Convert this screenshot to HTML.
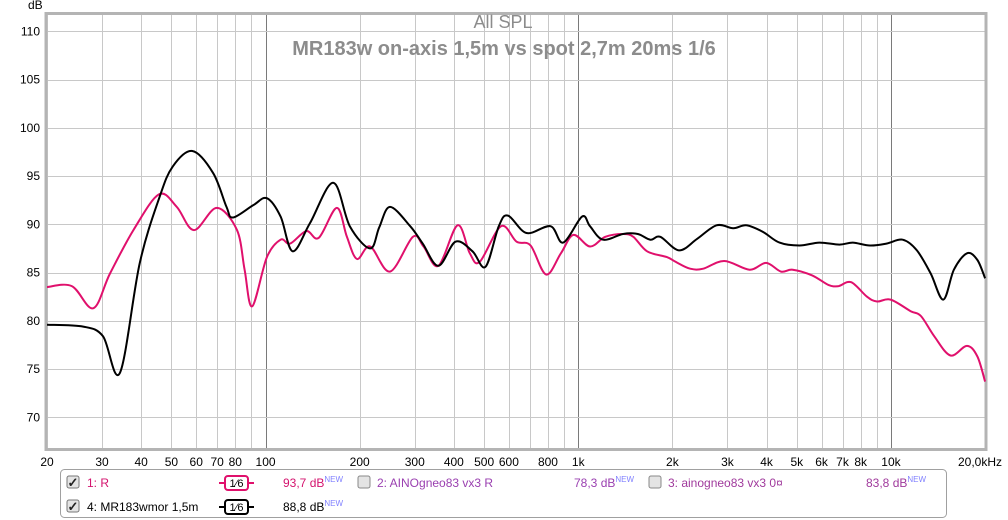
<!DOCTYPE html>
<html><head><meta charset="utf-8"><style>
html,body{margin:0;padding:0;background:#fff;}
svg{display:block;font-family:"Liberation Sans",sans-serif;}
</style></head><body>
<svg id="chart" width="1008" height="520" viewBox="0 0 1008 520" xmlns="http://www.w3.org/2000/svg">
<rect x="0" y="0" width="1008" height="520" fill="#fff"/>
<g id="grid"></g>
<rect x="46" y="13.5" width="940" height="436" fill="none" stroke="#b4b4b4" stroke-width="3"/>
<g id="xlabels" font-size="12" fill="#000"></g>
<g id="ylabels" font-size="12" fill="#000"></g>
<text x="28" y="9" font-size="12" fill="#000">dB</text>
<text x="503" y="28" font-size="18" fill="#8c8c8c" text-anchor="middle">All SPL</text>
<text x="504" y="55" font-size="20" font-weight="bold" fill="#8c8c8c" text-anchor="middle">MR183w on-axis 1,5m vs spot 2,7m  20ms 1/6</text>
<g id="series"></g>

<g font-size="12">
<rect x="60.5" y="469.5" width="886" height="48" rx="4" fill="#fff" stroke="#a0a0a0"/>
<g>
<rect x="67" y="476" width="12" height="12" rx="2" fill="#e4e4e4" stroke="#777"/>
<text x="67.5" y="487" font-size="13" font-weight="bold" fill="#222">✓</text>
<text x="87" y="487" fill="#d4136e">1: R</text>
<line x1="219" y1="483" x2="254" y2="483" stroke="#e0106c" stroke-width="2"/>
<rect x="225" y="476" width="23" height="14" rx="3" fill="#fff" stroke="#e0106c" stroke-width="2"/>
<text x="236.5" y="487" text-anchor="middle" font-size="11" fill="#000">1⁄6</text>
<text x="283" y="487" fill="#d4136e">93,7 dB<tspan dy="-5" font-size="8" fill="#8080ff">NEW</tspan></text>
</g>
<g>
<rect x="358" y="476" width="12" height="12" rx="2" fill="#e4e4e4" stroke="#888"/>
<text x="377" y="487" fill="#9a3fb0">2: AINOgneo83 vx3 R</text>
<text x="574" y="487" fill="#9a3fb0">78,3 dB<tspan dy="-5" font-size="8" fill="#8080ff">NEW</tspan></text>
</g>
<g>
<rect x="649" y="476" width="12" height="12" rx="2" fill="#e4e4e4" stroke="#888"/>
<text x="668" y="487" fill="#a03a9c">3: ainogneo83 vx3 0¤</text>
<text x="866" y="487" fill="#a03a9c">83,8 dB<tspan dy="-5" font-size="8" fill="#8080ff">NEW</tspan></text>
</g>
<g>
<rect x="67" y="500" width="12" height="12" rx="2" fill="#e4e4e4" stroke="#777"/>
<text x="67.5" y="511" font-size="13" font-weight="bold" fill="#222">✓</text>
<text x="87" y="511" fill="#000">4: MR183wmor 1,5m</text>
<line x1="219" y1="507" x2="254" y2="507" stroke="#000" stroke-width="2"/>
<rect x="225" y="500" width="23" height="14" rx="3" fill="#fff" stroke="#000" stroke-width="2"/>
<text x="236.5" y="511" text-anchor="middle" font-size="11" fill="#000">1⁄6</text>
<text x="283" y="511" fill="#000">88,8 dB<tspan dy="-5" font-size="8" fill="#8080ff">NEW</tspan></text>
</g>
</g>
</svg>
<script>
const pinkFreq=[20,24,28.1,31.8,37.8,45.6,52,59,69.8,81,85.7,90.6,101,111.7,119.8,135,148,169,182,196,216,250,296,320,357,411,450,484,566,635,704,789,880,965,1090,1220,1390,1500,1660,1920,2050,2280,2510,2930,3530,3990,4450,4850,5600,6320,6800,7460,8380,9020,9970,11560,12470,13750,15500,17500,18900,20000];
const pinkDb=[83.5,83.6,81.3,84.9,89.4,93.1,91.8,89.4,91.7,89.4,85.3,81.5,86.6,88.4,88.0,89.3,88.6,91.7,88.7,86.4,87.7,85.1,88.7,87.7,85.7,89.9,87.0,86.1,89.8,88.2,87.8,84.8,87.0,88.9,87.7,88.7,89.0,88.7,87.2,86.6,86.1,85.4,85.4,86.2,85.3,86.0,85.1,85.3,84.7,83.7,83.6,84.0,82.5,82.0,82.2,81.0,80.5,78.4,76.4,77.4,76.3,73.7];
const blackFreq=[20,26.1,30.2,34.2,39.6,45.9,50.5,58.3,68,75,78.6,91.5,101,111.7,122,138.6,164.6,186,216,231,250,290,318,357,405,459,505,557,596,683,815,895,1028,1090,1200,1390,1550,1700,1830,2100,2400,2770,3130,3450,3900,4400,5100,5900,6840,7550,8560,9670,10900,12100,13400,14700,15900,17500,18900,20000];
const blackDb=[79.6,79.4,78.4,74.6,86.0,92.9,96.0,97.6,95.3,91.8,90.7,92.0,92.7,90.8,87.2,90.1,94.3,89.8,87.5,89.7,91.8,89.8,88.0,85.7,88.2,87.2,85.6,89.8,90.9,89.1,89.8,88.1,90.8,89.8,88.4,89.0,89.0,88.4,88.7,87.3,88.5,89.9,89.6,89.9,89.2,88.1,87.8,88.1,87.9,88.1,87.8,88.0,88.4,87.3,84.9,82.2,85.3,87.0,86.3,84.4];
const xTickVals=[20,30,40,50,60,70,80,100,200,300,400,500,600,800,1000,2000,3000,4000,5000,6000,7000,8000,10000,20000];
const xTickLabels=["20","30","40","50","60","70","80","100","200","300","400","500","600","800","1k","2k","3k","4k","5k","6k","7k","8k","10k","20,0kHz"];
const yTickVals=[70,75,80,85,90,95,100,105,110];

const X0=47,DEC=312.7,Y110=31.3,PXDB=9.65;
function xs(f){return X0+Math.log10(f/20)*DEC;}
function ys(v){return Y110+(110-v)*PXDB;}
const NS="http://www.w3.org/2000/svg";
const grid=document.getElementById('grid');
const gridF=[];
[10,100,1000,10000].forEach(d=>{for(let k=1;k<10;k++){const f=d*k;if(f>=20&&f<=20000)gridF.push(f);}});
gridF.push(20000);
gridF.forEach(f=>{
 const l=document.createElementNS(NS,'line');
 const x=Math.round(xs(f))+0.5;
 l.setAttribute('x1',x);l.setAttribute('x2',x);l.setAttribute('y1',14);l.setAttribute('y2',449);
 const major=(f===100||f===1000||f===10000);
 l.setAttribute('stroke',major?'#7a7a7a':'#c8c8c8');
 
 
 grid.appendChild(l);
});
yTickVals.forEach(v=>{
 const l=document.createElementNS(NS,'line');
 const y=Math.round(ys(v))+0.5;
 l.setAttribute('x1',47);l.setAttribute('x2',986);l.setAttribute('y1',y);l.setAttribute('y2',y);
 l.setAttribute('stroke','#c8c8c8');
 
 
 grid.appendChild(l);
 const t=document.createElementNS(NS,'text');
 t.setAttribute('x',40);t.setAttribute('y',ys(v)+4);t.setAttribute('text-anchor','end');
 t.textContent=String(v);
 
 
 document.getElementById('ylabels').appendChild(t);
});
xTickVals.forEach((f,i)=>{
 const t=document.createElementNS(NS,'text');
 const last=i===xTickVals.length-1;
 t.setAttribute('x',last?958:xs(f));t.setAttribute('y',466);
 t.setAttribute('text-anchor',last?'start':'middle');
 t.textContent=xTickLabels[i];
 
 
 document.getElementById('xlabels').appendChild(t);
});
function pathFor(fr,db){
 const p=fr.map((f,i)=>[xs(f),ys(db[i])]);
 let d='M'+p[0][0].toFixed(1)+','+p[0][1].toFixed(1);
 for(let i=0;i<p.length-1;i++){
  const p0=p[Math.max(0,i-1)],p1=p[i],p2=p[i+1],p3=p[Math.min(p.length-1,i+2)];
  const c1x=p1[0]+(p2[0]-p0[0])/6,c1y=p1[1]+(p2[1]-p0[1])/6;
  const c2x=p2[0]-(p3[0]-p1[0])/6,c2y=p2[1]-(p3[1]-p1[1])/6;
  d+=' C'+c1x.toFixed(1)+','+c1y.toFixed(1)+' '+c2x.toFixed(1)+','+c2y.toFixed(1)+' '+p2[0].toFixed(1)+','+p2[1].toFixed(1);
 }
 return d;
}
const series=document.getElementById('series');
const pp=document.createElementNS(NS,'path');
pp.setAttribute('d',pathFor(pinkFreq,pinkDb));
pp.setAttribute('fill','none');pp.setAttribute('stroke','#e0106c');pp.setAttribute('stroke-width','2');


series.appendChild(pp);
const bp=document.createElementNS(NS,'path');
bp.setAttribute('d',pathFor(blackFreq,blackDb));
bp.setAttribute('fill','none');bp.setAttribute('stroke','#000');bp.setAttribute('stroke-width','2');


series.appendChild(bp);
</script>
</body></html>
